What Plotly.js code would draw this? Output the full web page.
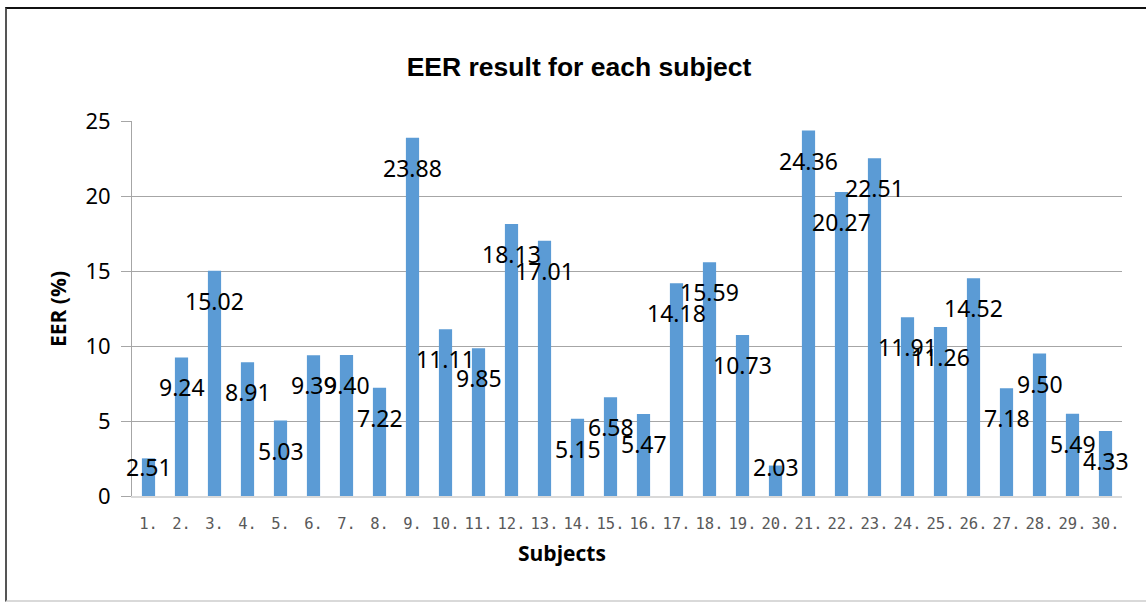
<!DOCTYPE html>
<html>
<head>
<meta charset="utf-8">
<script src="https://cdn.plot.ly/plotly-3.0.1.min.js"></script>
<style>
  html, body { margin: 0; padding: 0; background: #ffffff; }
  #wrap { position: relative; width: 1146px; height: 602px; overflow: hidden; }
  #chart { position: absolute; left: 0; top: 0; width: 1146px; height: 602px; }
  #frame { position: absolute; left: 5px; top: 7px; width: 1200px; height: 591px;
           border-top: 2px solid #111; border-left: 2px solid #555; border-bottom: 2px solid #d9d9d9;
           pointer-events: none; z-index: 10; }
</style>
</head>
<body>
<div id="wrap">
  <div id="chart"></div>
  <div id="frame"></div>
</div>
<script>
const subjects = ["1.","2.","3.","4.","5.","6.","7.","8.","9.","10.",
                  "11.","12.","13.","14.","15.","16.","17.","18.","19.","20.",
                  "21.","22.","23.","24.","25.","26.","27.","28.","29.","30."];
const eer = [2.51, 9.24, 15.02, 8.91, 5.03, 9.39, 9.40, 7.22, 23.88, 11.11,
             9.85, 18.13, 17.01, 5.15, 6.58, 5.47, 14.18, 15.59, 10.73, 2.03,
             24.36, 20.27, 22.51, 11.91, 11.26, 14.52, 7.18, 9.50, 5.49, 4.33];
const yTicks = [0, 5, 10, 15, 20, 25];

const labelFont = { family: "Noto Sans", size: 23, color: "#000000" };

// category axis: annotations are placed by category index
const annotations = subjects.map((s, i) => {
  const v = eer[i];
  const small = v < 4;
  return {
    x: i, y: small ? 0 : v, xref: "x", yref: "y",
    text: v.toFixed(2), showarrow: false,
    xanchor: "center", yanchor: "middle",
    yshift: small ? 29 : -30,
    font: labelFont
  };
});

annotations.push({
  xref: "paper", yref: "paper", x: (562 - 132) / 990, y: 0, yshift: -57,
  xanchor: "center", yanchor: "middle", showarrow: false,
  text: "<b>Subjects</b>",
  font: { family: "Open Sans", size: 21, color: "#000000" }
});
annotations.push({
  xref: "paper", yref: "paper", x: (58 - 132) / 990, y: (496 - 309) / 375,
  xanchor: "center", yanchor: "middle", showarrow: false, textangle: -90,
  text: "<b>EER (%)</b>",
  font: { family: "Open Sans", size: 21, color: "#000000" }
});

const trace = {
  type: "bar",
  x: subjects,
  y: eer,
  marker: { color: "#5B9BD5" },
  hoverinfo: "x+y"
};

const layout = {
  width: 1146, height: 602,
  margin: { l: 132, r: 24, t: 121, b: 106, pad: 0 },
  paper_bgcolor: "#ffffff", plot_bgcolor: "#ffffff",
  bargap: 0.6,
  showlegend: false,
  title: {
    text: "<b>EER result for each subject</b>",
    xref: "container", yref: "container",
    x: 579 / 1146, xanchor: "center",
    y: 1 - 67 / 602, yanchor: "middle",
    font: { family: "Liberation Sans", size: 26.5, color: "#000000" }
  },
  xaxis: {
    type: "category",
    range: [-0.5, subjects.length - 0.5],
    autorange: false,
    tickvals: subjects, ticktext: subjects,
    showgrid: false, zeroline: false,
    showline: true, linecolor: "#d9d9d9", linewidth: 1.5,
    ticks: "", ticklabelstandoff: 13,
    tickfont: { family: "DejaVu Sans Mono", size: 15.5, color: "#595959" }
  },
  yaxis: {
    range: [0, 25],
    autorange: false,
    tickvals: yTicks, ticktext: yTicks.map(String),
    showgrid: true, gridcolor: "#a6a6a6", gridwidth: 1,
    zeroline: false,
    showline: true, linecolor: "#a6a6a6", linewidth: 1,
    ticks: "outside", ticklen: 10, tickcolor: "#a6a6a6", tickwidth: 1,
    ticklabelstandoff: 6,
    tickfont: { family: "Noto Sans", size: 22, color: "#000000" }
  },
  annotations: annotations
};

Plotly.newPlot("chart", [trace], layout, { displayModeBar: false, staticPlot: true });
</script>
</body>
</html>
